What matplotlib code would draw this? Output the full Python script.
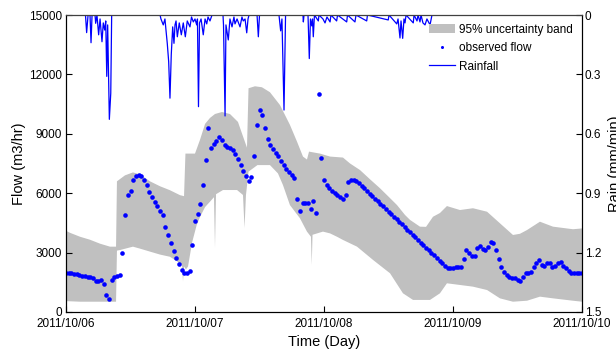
import numpy as np
import matplotlib
matplotlib.use("Agg")
import matplotlib.pyplot as plt
from matplotlib.patches import Patch
from matplotlib.lines import Line2D

plt.rcParams['font.family'] = ['Liberation Sans', 'DejaVu Sans']

#===================== DATA ==========================
# observed flow (m3/hr), one value every 30 min starting 2011/10/06 00:00
obs_step = 1.0 / 48
obs_flow = [1990, 1970, 1950, 1920, 1900, 1870, 1840, 1810, 1790, 1770,
            1720, 1560, 1580, 1620, 1420, 850, 640, 1620, 1760, 1810,
            1860, 3000, 4900, 5900, 6100, 6660, 6850, 6910, 6860, 6680,
            6400, 6060, 5800, 5570, 5350, 5120, 4900, 4300, 3900, 3480,
            3100, 2730, 2400, 2130, 1980, 1950, 2050, 3400, 4600, 4970,
            5450, 6400, 7700, 9300, 8270, 8460, 8650, 8840, 8700, 8440,
            8320, 8290, 8200, 8000, 7750, 7420, 7130, 6850, 6620, 6800,
            7900, 9450, 10180, 9950, 9300, 8750, 8420, 8250, 8050, 7890,
            7650, 7400, 7220, 7050, 6900, 6750, 5700, 5100, 5480, 5500,
            5480, 5200, 5600, 5000, 11000, 7800, 6650, 6400, 6250, 6130,
            6030, 5920, 5820, 5700, 5900, 6550, 6680, 6690, 6600, 6500,
            6370, 6240, 6110, 5980, 5850, 5720, 5590, 5460, 5330, 5200,
            5070, 4940, 4810, 4680, 4550, 4420, 4290, 4160, 4030, 3900,
            3770, 3640, 3510, 3380, 3250, 3120, 2990, 2860, 2730, 2600,
            2470, 2330, 2210, 2230, 2240, 2250, 2260, 2280, 2700, 3150,
            3000, 2850, 2850, 3250, 3350, 3200, 3130, 3300, 3550, 3500,
            3150, 2700, 2250, 2000, 1850, 1760, 1730, 1700, 1640, 1580,
            1780, 1960, 1990, 2030, 2250, 2500, 2620, 2380, 2320, 2480,
            2450, 2250, 2300, 2450, 2520, 2340, 2200, 2090, 1960, 1950,
            1980, 1980, 1970]

# 95% uncertainty band (day, flow)
up_day = [0.000, 0.031, 0.109, 0.186, 0.264, 0.341, 0.388, 0.395, 0.457, 0.519,
          0.574, 0.651, 0.729, 0.806, 0.884, 0.915, 0.926, 1.000, 1.039, 1.078,
          1.116, 1.155, 1.209, 1.271, 1.333, 1.364, 1.403, 1.415, 1.465, 1.519,
          1.581, 1.659, 1.736, 1.791, 1.837, 1.868, 1.884, 1.969, 2.047, 2.147,
          2.202, 2.279, 2.357, 2.434, 2.512, 2.566, 2.628, 2.667, 2.744, 2.791,
          2.845, 2.899, 2.953, 3.054, 3.155, 3.264, 3.364, 3.465, 3.519, 3.574,
          3.674, 3.775, 3.930, 4.000]
up_flow = [4100, 4000, 3800, 3650, 3450, 3300, 3300, 6600, 6900, 7050,
           6950, 6600, 6350, 6150, 5900, 5850, 8000, 8000, 8700, 9500,
           9800, 10000, 10100, 10000, 9600, 9020, 8300, 11300, 11400, 11350,
           11100, 10450, 9450, 8600, 7850, 7700, 8100, 8000, 7850, 7800,
           7500, 7170, 6700, 6250, 5750, 5400, 4900, 4650, 4310, 4300,
           4810, 5000, 5350, 5150, 5240, 5065, 4480, 3890, 3950, 4140,
           4560, 4310, 4180, 4220]
lo_day = [0.000, 0.109, 0.264, 0.388, 0.395, 0.419, 0.519, 0.574, 0.651, 0.729,
          0.806, 0.884, 0.899, 0.907, 0.915, 0.930, 0.946, 0.977, 1.013, 1.039,
          1.078, 1.116, 1.147, 1.155, 1.163, 1.217, 1.326, 1.372, 1.384, 1.395,
          1.415, 1.484, 1.581, 1.643, 1.682, 1.736, 1.814, 1.868, 1.899, 1.905,
          1.911, 1.992, 2.047, 2.101, 2.147, 2.256, 2.380, 2.512, 2.612, 2.690,
          2.822, 2.899, 2.953, 3.054, 3.155, 3.264, 3.364, 3.465, 3.574, 3.674,
          3.775, 3.930, 4.000]
lo_flow = [550, 520, 520, 520, 3100, 3130, 3300, 3200, 3050, 2900,
           2790, 2460, 2400, 1550, 2300, 2150, 2300, 3500, 4390, 4800,
           5300, 5570, 5800, 3250, 5950, 6160, 6160, 5910, 4240, 5900,
           7090, 7420, 7420, 7000, 6410, 5400, 4730, 4060, 3800, 2370,
           3900, 4060, 3970, 3800, 3640, 3300, 2630, 1955, 945, 610,
           610, 945, 1450, 1365, 1280, 1110, 690, 520, 570, 775,
           690, 570, 520]

# rainfall (day, mm/min)
rain_day = [0.000, 0.151, 0.160, 0.171, 0.186, 0.194, 0.202, 0.225, 0.230, 0.240,
            0.253, 0.264, 0.279, 0.289, 0.300, 0.308, 0.316, 0.323, 0.336, 0.347,
            0.354, 0.729, 0.736, 0.754, 0.767, 0.775, 0.785, 0.796, 0.806, 0.816,
            0.827, 0.837, 0.845, 0.853, 0.863, 0.878, 0.894, 0.909, 0.925, 0.940,
            0.961, 0.973, 0.987, 1.000, 1.013, 1.019, 1.027, 1.035, 1.047, 1.064,
            1.078, 1.091, 1.101, 1.116, 1.132, 1.217, 1.221, 1.233, 1.240, 1.258,
            1.271, 1.287, 1.302, 1.310, 1.326, 1.349, 1.364, 1.374, 1.388, 1.401,
            1.411, 1.419, 1.481, 1.491, 1.500, 1.651, 1.664, 1.674, 1.690, 1.702,
            1.837, 1.840, 1.845, 1.876, 1.886, 1.895, 1.905, 1.911, 1.917, 1.926,
            1.956, 1.961, 1.992, 2.008, 2.023, 2.047, 2.054, 2.098, 2.105, 2.176,
            2.182, 2.240, 2.248, 2.331, 2.337, 2.498, 2.504, 2.564, 2.574, 2.589,
            2.597, 2.610, 2.620, 2.628, 2.636, 2.692, 2.698, 2.721, 2.729, 2.744,
            2.752, 2.767, 2.783, 2.798, 2.822, 2.837, 3.558]
rain = [0, 0, 0.089, 0, 0, 0.14, 0, 0, 0.042, 0,
        0.10, 0.02, 0.135, 0.04, 0.076, 0.03, 0.31, 0.05, 0.527, 0.395,
        0, 0, 0.02, 0.05, 0.02, 0.076, 0.143, 0.236, 0.42, 0.2,
        0.06, 0.143, 0.05, 0.03, 0.11, 0.04, 0.1, 0.04, 0.11, 0.03,
        0.06, 0.01, 0.035, 0.02, 0.05, 0.02, 0.463, 0.04, 0.02, 0.1,
        0.02, 0.045, 0.01, 0.03, 0, 0, 0.05, 0.51, 0.05, 0.126,
        0.02, 0.06, 0.01, 0.045, 0.02, 0.06, 0.01, 0.03, 0.02, 0.09,
        0.02, 0, 0, 0.11, 0, 0, 0.08, 0.02, 0.48, 0,
        0, 0.035, 0, 0, 0.22, 0.02, 0.055, 0.02, 0.11, 0,
        0.03, 0, 0.02, 0.04, 0.01, 0.035, 0, 0.03, 0, 0.035,
        0, 0.035, 0, 0.03, 0, 0.025, 0, 0.045, 0.02, 0.116,
        0.03, 0.118, 0.02, 0.04, 0, 0.04, 0, 0.03, 0, 0.035,
        0, 0.04, 0.05, 0.02, 0.05, 0, 0]

day_ticks = [0, 1, 2, 3, 4]
day_labels = ['2011/10/06', '2011/10/07', '2011/10/08', '2011/10/09', '2011/10/10']
flow_ticks = [0, 3000, 6000, 9000, 12000, 15000]
rain_ticks = [0, 0.3, 0.6, 0.9, 1.2, 1.5]
rain_labels = ['0', '0.3', '0.6', '0.9', '1.2', '1.5']
#===================== END DATA ==========================

obs_day = np.arange(len(obs_flow)) * obs_step

fig = plt.figure(figsize=(6.16, 3.57), dpi=100)
ax = fig.add_axes([66/616, 1-312/357, 516/616, 297/357])

# band as a polygon: upper edge forward, lower edge back
band_x = np.concatenate([up_day, lo_day[::-1]])
band_y = np.concatenate([up_flow, lo_flow[::-1]])
ax.fill(band_x, band_y, color='#c0c0c0', lw=0)
ax.plot(obs_day, obs_flow, 'o', color='#0000ff', ms=3.3, mew=0)

ax.set_xlim(0, 4)
ax.set_ylim(0, 15000)
ax.set_xticks(day_ticks)
ax.set_xticklabels(day_labels)
ax.set_yticks(flow_ticks)
ax.tick_params(direction='in', length=4.5, labelsize=8.5, pad=3)
ax.tick_params(axis='x', pad=4)
ax.set_xlabel('Time (Day)', fontsize=10.5)
ax.set_ylabel('Flow (m3/hr)', fontsize=10.5)
ax.xaxis.set_label_coords(0.5, -0.078)
ax.yaxis.set_label_coords(-0.077, 0.5)

ax2 = ax.twinx()
ax2.plot(rain_day, rain, color='#0000ff', lw=0.9)
ax2.set_ylim(1.5, 0)
ax2.set_yticks(rain_ticks)
ax2.set_yticklabels(rain_labels)
ax2.tick_params(direction='in', length=4.5, labelsize=8.5, pad=2)
ax2.set_ylabel('Rain (mm/min)', fontsize=10.5)
ax2.yaxis.set_label_coords(1.05, 0.5)
ax2.spines['top'].set_color('#404040')

handles = [Patch(facecolor='#c0c0c0', edgecolor='none'),
           Line2D([], [], ls='none', marker='o', ms=2.2, mew=0, color='#0000ff'),
           Line2D([], [], color='#0000ff', lw=0.9)]
ax2.legend(handles, ['95% uncertainty band', 'observed flow', 'Rainfall'],
           loc='upper right', frameon=False, fontsize=8.5, handlelength=2.2,
           handletextpad=0.3, labelspacing=0.55, borderaxespad=0.2,
           bbox_to_anchor=(0.995, 0.995))

fig.savefig('out.png', dpi=100)
